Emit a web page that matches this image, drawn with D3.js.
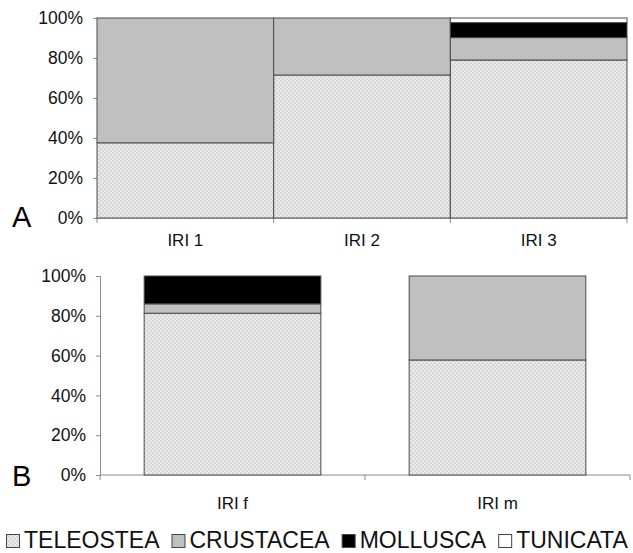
<!DOCTYPE html>
<html>
<head>
<meta charset="utf-8">
<script src="https://cdn.jsdelivr.net/npm/d3@7"></script>
<style>
  html, body { margin: 0; padding: 0; background: #fff; }
  svg { display: block; font-family: "Liberation Sans", Arial, sans-serif; }
</style>
</head>
<body>
<svg id="chart" width="633" height="553"></svg>
<script>
// Prey groups (stack order, bottom to top)
const preyGroups = ["TELEOSTEA", "CRUSTACEA", "MOLLUSCA", "TUNICATA"];

// Panel A: IRI by size class
const categoriesA = ["IRI 1", "IRI 2", "IRI 3"];
const teleosteaA = [37.6, 71.5, 79.0];
const crustaceaA = [62.4, 28.5, 11.2];
const molluscaA  = [0, 0, 7.5];
const tunicataA  = [0, 0, 2.3];

// Panel B: IRI by sex
const categoriesB = ["IRI f", "IRI m"];
const teleosteaB = [81.3, 57.8];
const crustaceaB = [4.7, 42.2];
const molluscaB  = [14.0, 0];
const tunicataB  = [0, 0];

const yTicks = [0, 20, 40, 60, 80, 100];

const svg = d3.select("#chart");
const defs = svg.append("defs");

// Fine dotted fill used for TELEOSTEA
const pat = defs.append("pattern")
  .attr("id", "dots").attr("patternUnits", "userSpaceOnUse")
  .attr("width", 4).attr("height", 4);
pat.append("rect").attr("width", 4).attr("height", 4).attr("fill", "#ebebeb");
pat.append("rect").attr("x", 0).attr("y", 0).attr("width", 2).attr("height", 2).attr("fill", "#d6d6d6");
pat.append("rect").attr("x", 2).attr("y", 2).attr("width", 2).attr("height", 2).attr("fill", "#d6d6d6");

const fills = {
  TELEOSTEA: "url(#dots)",
  CRUSTACEA: "#c0c0c0",
  MOLLUSCA: "#000000",
  TUNICATA: "#ffffff"
};

function rows(cats, t, c, m, u) {
  return cats.map((k, i) => ({ cat: k, TELEOSTEA: t[i], CRUSTACEA: c[i], MOLLUSCA: m[i], TUNICATA: u[i] }));
}

function panel(opts) {
  const { cats, data, left, right, top, bottom, pi, po, letter, letterY, labelY } = opts;
  const g = svg.append("g");
  const x = d3.scaleBand().domain(cats).range([left, right]).paddingInner(pi).paddingOuter(po);
  const y = d3.scaleLinear().domain([0, 100]).range([bottom, top]);
  const series = d3.stack().keys(preyGroups)(data);

  // y axis
  const ya = g.append("g").attr("transform", `translate(${left},0)`)
    .call(d3.axisLeft(y).tickValues(yTicks).tickSize(4).tickPadding(10).tickFormat(d => d + "%"));
  ya.select(".domain").attr("stroke", "#8a8a8a");
  ya.selectAll(".tick line").attr("stroke", "#8a8a8a");
  ya.selectAll(".tick text").attr("font-size", 17.5).attr("fill", "#111")
    .attr("font-family", "Liberation Sans, Arial, sans-serif");

  // x axis line with ticks at category boundaries
  g.append("line").attr("x1", left).attr("x2", right).attr("y1", bottom).attr("y2", bottom)
    .attr("stroke", "#8a8a8a");
  const step = x.step();
  const bounds = d3.range(cats.length + 1).map(i => left + i * step);
  g.selectAll(".xt").data(bounds).join("line")
    .attr("x1", d => d).attr("x2", d => d).attr("y1", bottom).attr("y2", bottom + 5)
    .attr("stroke", "#8a8a8a");

  // stacked segments
  series.forEach(s => {
    g.selectAll(null).data(s.filter(d => d[1] - d[0] > 0)).join("rect")
      .attr("x", d => x(d.data.cat))
      .attr("width", x.bandwidth())
      .attr("y", d => y(d[1]))
      .attr("height", d => y(d[0]) - y(d[1]))
      .attr("fill", fills[s.key])
      .attr("stroke", "#4a4a4a")
      .attr("stroke-width", 1);
  });

  // category labels
  g.selectAll(".cl").data(cats).join("text")
    .attr("x", d => x(d) + x.bandwidth() / 2)
    .attr("y", labelY)
    .attr("text-anchor", "middle")
    .attr("font-size", 17).attr("fill", "#111")
    .text(d => d);

  // panel letter
  g.append("text").attr("x", 12).attr("y", letterY)
    .attr("font-size", 29).attr("fill", "#000").text(letter);
}

panel({
  cats: categoriesA,
  data: rows(categoriesA, teleosteaA, crustaceaA, molluscaA, tunicataA),
  left: 97, right: 627, top: 18, bottom: 218, pi: 0, po: 0,
  letter: "A", letterY: 227, labelY: 246
});

panel({
  cats: categoriesB,
  data: rows(categoriesB, teleosteaB, crustaceaB, molluscaB, tunicataB),
  left: 100, right: 630, top: 276, bottom: 475, pi: 1 / 3, po: 1 / 6,
  letter: "B", letterY: 486, labelY: 509
});

// legend
const legend = svg.append("g").attr("transform", "translate(0,548)");
let lx = 6;
preyGroups.forEach(k => {
  legend.append("rect").attr("x", lx + 0.5).attr("y", -13.5).attr("width", 13).attr("height", 13)
    .attr("fill", fills[k]).attr("stroke", "#444");
  const t = legend.append("text").attr("x", lx + 18).attr("y", 0)
    .attr("font-size", 23).attr("fill", "#111").text(k);
  lx += 18 + t.node().getComputedTextLength() + 12;
});
</script>
</body>
</html>
